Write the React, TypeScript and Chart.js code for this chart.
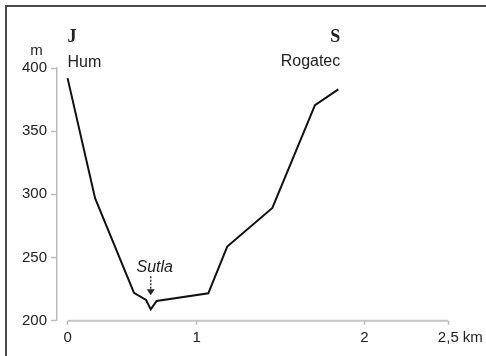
import React, { useEffect, useRef } from "react";
import { Chart, registerables } from "chart.js";

Chart.register(...registerables);

// Profile data (distance in km along the section, elevation in m)
const distanceKm = [0.23, 0.394, 0.626, 0.698, 0.726, 0.761, 1.069, 1.182, 1.451, 1.705, 1.844];
const elevationM = [392, 297, 222, 216.4, 209, 215.6, 221.7, 258.7, 289.2, 370.6, 383.1];

const yTickValues = [200, 250, 300, 350, 400];
const xTickValues = [0.23, 1, 2, 2.5];
const xTickLabels = ["0", "1", "2", "2,5"];
const xUnit = "km";
const yUnit = "m";
const leftEndLabels = ["J", "Hum"];
const rightEndLabels = ["S", "Rogatec"];
const riverLabel = "Sutla";
const riverIndex = 4;

const SANS = "'Liberation Sans', Arial, sans-serif";
const SERIF = "'Liberation Serif', 'Times New Roman', serif";

const overlayPlugin = {
  id: "overlay",
  beforeDraw(chart: any) {
    const ctx = chart.ctx;
    ctx.save();
    ctx.fillStyle = "#ffffff";
    ctx.fillRect(0, 0, chart.width, chart.height);
    ctx.fillStyle = "#4a4a4a";
    ctx.fillRect(5, 5, 2, chart.height - 5);
    ctx.fillRect(5, 5, chart.width - 5, 2);
    ctx.restore();
  },
  afterDraw(chart: any) {
    const { ctx, chartArea } = chart;
    const x = chart.scales.x;
    const y = chart.scales.y;
    ctx.save();
    // x axis line from first to last tick
    ctx.strokeStyle = "#c4c4c4";
    ctx.lineWidth = 2;
    ctx.beginPath();
    ctx.moveTo(x.getPixelForValue(xTickValues[0]), chartArea.bottom);
    ctx.lineTo(x.getPixelForValue(xTickValues[xTickValues.length - 1]), chartArea.bottom);
    ctx.stroke();

    ctx.fillStyle = "#222";
    // unit "km" after last tick label
    ctx.font = `15px ${SANS}`;
    ctx.textBaseline = "middle";
    ctx.textAlign = "left";
    const lastPx = x.getPixelForValue(xTickValues[xTickValues.length - 1]);
    const wLast = ctx.measureText(xTickLabels[xTickLabels.length - 1]).width;
    ctx.fillText(xUnit, lastPx + wLast / 2 + 4, chartArea.bottom + 17);

    // unit "m" above y axis
    ctx.textAlign = "center";
    ctx.textBaseline = "alphabetic";
    ctx.fillText(yUnit, 36.5, y.getPixelForValue(400) - 13);

    // end labels
    const x0 = x.getPixelForValue(distanceKm[0]);
    const xn = x.getPixelForValue(distanceKm[distanceKm.length - 1]);
    ctx.font = `bold 18px ${SERIF}`;
    ctx.textAlign = "left";
    ctx.fillText(leftEndLabels[0], x0, 42);
    ctx.textAlign = "right";
    ctx.fillText(rightEndLabels[0], xn + 2, 42);
    ctx.font = `16px ${SANS}`;
    ctx.textAlign = "left";
    ctx.fillText(leftEndLabels[1], x0, 67);
    ctx.textAlign = "right";
    ctx.fillText(rightEndLabels[1], xn + 2, 66);

    // river label and dotted arrow
    const rx = x.getPixelForValue(distanceKm[riverIndex]);
    const ry = y.getPixelForValue(elevationM[riverIndex]);
    ctx.font = `italic 16px ${SANS}`;
    ctx.textAlign = "center";
    ctx.fillText(riverLabel, rx + 4, ry - 37);
    ctx.strokeStyle = "#222";
    ctx.lineWidth = 1.3;
    ctx.setLineDash([2, 1.5]);
    ctx.beginPath();
    ctx.moveTo(rx, ry - 33);
    ctx.lineTo(rx, ry - 19);
    ctx.stroke();
    ctx.setLineDash([]);
    ctx.beginPath();
    ctx.moveTo(rx - 4, ry - 20);
    ctx.lineTo(rx + 4, ry - 20);
    ctx.lineTo(rx, ry - 14);
    ctx.closePath();
    ctx.fill();
    ctx.restore();
  },
};

export default function App() {
  const canvasRef = useRef<HTMLCanvasElement | null>(null);

  useEffect(() => {
    if (!canvasRef.current) return;
    const chart = new Chart(canvasRef.current, {
      type: "line",
      data: {
        datasets: [
          {
            data: distanceKm.map((d, i) => ({ x: d, y: elevationM[i] })),
            borderColor: "#111",
            borderWidth: 2,
            pointRadius: 0,
            tension: 0,
            fill: false,
          },
        ],
      },
      options: {
        responsive: false,
        animation: false,
        layout: { padding: { left: 0, top: 68, right: 37.7, bottom: 0 } },
        plugins: { legend: { display: false }, tooltip: { enabled: false } },
        scales: {
          x: {
            type: "linear",
            min: 0.167,
            max: 2.5,
            afterBuildTicks: (scale: any) => {
              scale.ticks = xTickValues.map((v) => ({ value: v }));
            },
            afterFit: (scale: any) => {
              scale.height = 35.3;
            },
            border: { display: false },
            grid: { drawOnChartArea: false, drawTicks: true, tickLength: 4, tickColor: "#b8b8b8", tickWidth: 1.5 },
            ticks: {
              autoSkip: false,
              maxRotation: 0,
              padding: 4,
              color: "#222",
              font: { family: SANS, size: 15 },
              callback: (_v: any, i: number) => xTickLabels[i],
            },
          },
          y: {
            type: "linear",
            min: 200,
            max: 400,
            afterBuildTicks: (scale: any) => {
              scale.ticks = yTickValues.map((v) => ({ value: v }));
            },
            afterFit: (scale: any) => {
              scale.width = 57;
            },
            border: { display: true, color: "#bcbcbc", width: 1.5 },
            grid: { drawOnChartArea: false, drawTicks: true, tickLength: 6, tickColor: "#bcbcbc", tickWidth: 1.5 },
            ticks: {
              padding: 4,
              color: "#222",
              font: { family: SANS, size: 15 },
              callback: (v: any) => String(v),
            },
          },
        },
      },
      plugins: [overlayPlugin],
    });
    return () => chart.destroy();
  }, []);

  return (
    <div style={{ position: "fixed", left: 0, top: 0, width: 486, height: 356, background: "#fff" }}>
      <canvas ref={canvasRef} width={486} height={356} style={{ width: 486, height: 356, display: "block" }} />
    </div>
  );
}
